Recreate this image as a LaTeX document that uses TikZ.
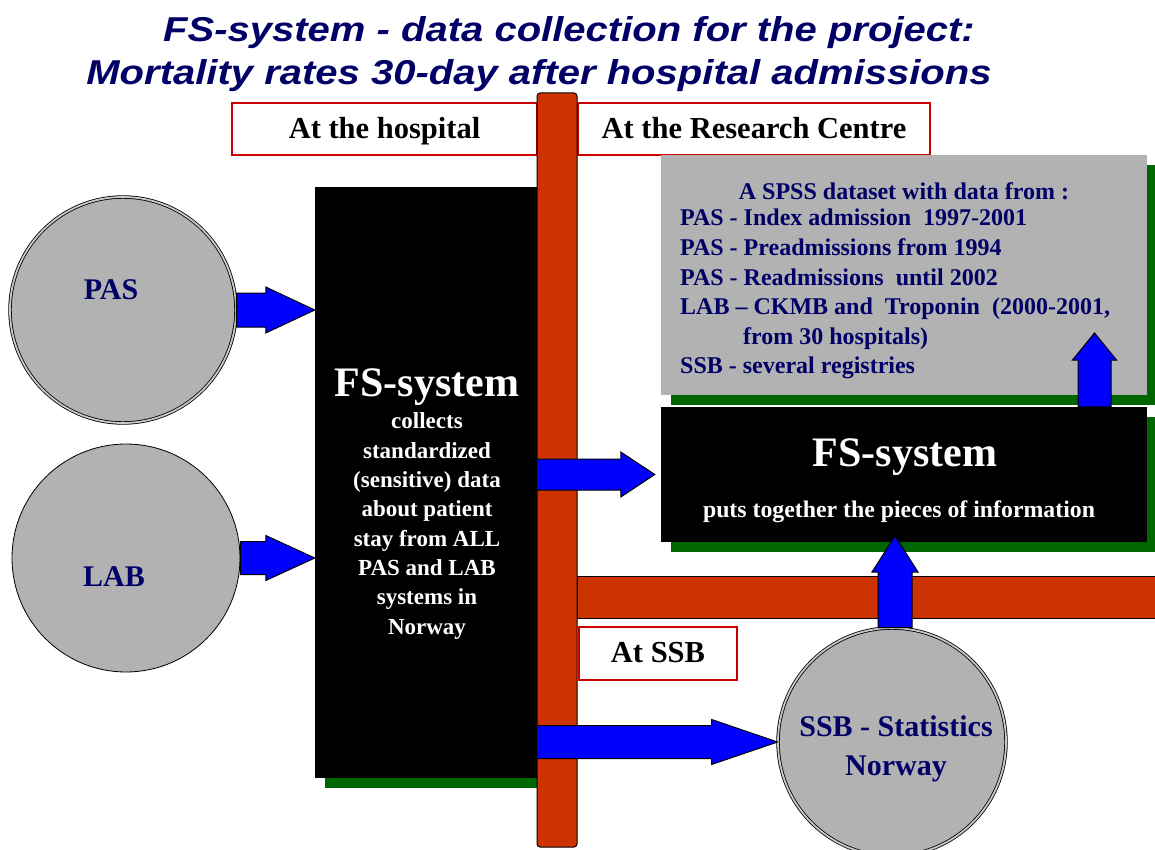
\documentclass[tikz,border=0pt]{standalone}
\usepackage{fontspec}
\setmainfont{Liberation Serif}
\newfontfamily\titlefont[FakeStretch=1.16]{Liberation Sans}
\usetikzlibrary{calc,shadows}
\definecolor{navy}{RGB}{0,0,102}
\definecolor{barred}{RGB}{204,51,0}
\definecolor{shadowgreen}{RGB}{0,102,0}
\definecolor{boxgray}{RGB}{178,178,178}
\definecolor{ringgray}{RGB}{200,200,200}
\definecolor{hdrred}{RGB}{204,0,0}
\definecolor{arrblue}{RGB}{0,0,255}
\newcommand{\fsz}[1]{\fontsize{#1}{#1}\selectfont}
\newcommand{\blockright}[5]{\draw[blk] let \p1=(#1), \p2=(#2) in
  (\x1,\y1+#3) -- (\x2-#5,\y1+#3) -- (\x2-#5,\y1+#4) -- (\x2,\y1) --
  (\x2-#5,\y1-#4) -- (\x2-#5,\y1-#3) -- (\x1,\y1-#3) -- cycle;}
\newcommand{\blockup}[5]{\draw[blk] let \p1=(#1), \p2=(#2) in
  (\x1-#3,\y1) -- (\x1-#3,\y2-#5) -- (\x1-#4,\y2-#5) -- (\x1,\y2) --
  (\x1+#4,\y2-#5) -- (\x1+#3,\y2-#5) -- (\x1+#3,\y1) -- cycle;}
\tikzset{
  blk/.style={draw=black, fill=arrblue, line width=1pt, line join=miter},
  hdr/.style={draw=hdrred, fill=white, line width=1.2pt, inner sep=0pt, font=\fsz{30.5}\bfseries},
  greensh/.style={general shadow={fill=shadowgreen, shadow xshift=10pt, shadow yshift=-10pt}},
  blackbox/.style={fill=black, inner sep=0pt, greensh},
  graybox/.style={fill=boxgray, inner sep=0pt, greensh},
  ringcirc/.style={circle, fill=boxgray, draw=black, inner sep=0pt, line width=0.8pt},
  dblcirc/.style={ringcirc, double=ringgray, double distance=1.8pt},
  navytxt/.style={text=navy, inner sep=0pt, font=\fsz{30}\bfseries},
  wtxt/.style={text=white, inner sep=0pt},
  bartile/.style={fill=barred, draw=black, line width=1pt, inner sep=0pt},
}
\begin{document}
\begin{tikzpicture}[x=1pt,y=-1pt]
\useasboundingbox (0,0) rectangle (1155,850);
\clip (0,0) rectangle (1155,850);
% title
\node[font=\titlefont\bfseries\itshape\fsz{34.5}, text=navy, anchor=base, inner sep=0pt] (t1) at (569,42) {FS-system - data collection for the project:};
\node[font=\titlefont\bfseries\itshape\fsz{34.5}, text=navy, anchor=base, inner sep=0pt] (t2) at (539,85) {Mortality rates 30-day after hospital admissions};
% header boxes
\node[hdr, minimum width=305pt, minimum height=52pt, text height=23pt, text depth=3pt] (hosp) at (384.5,129) {At the hospital};
\node[hdr, minimum width=352pt, minimum height=52pt, text height=23pt, text depth=3pt] (rc) at (754,129) {At the Research Centre};
% boxes
\node[graybox, minimum width=486pt, minimum height=240pt] (gray) at (904,275) {};
\node[blackbox, minimum width=486pt, minimum height=135pt] (fsr) at (904,474.5) {};
\node[blackbox, minimum width=230pt, minimum height=591pt] (fsl) at (430,482.5) {};
% bars
\node[bartile, minimum width=598pt, minimum height=42pt] (hbar) at (876,597) {};
\node[bartile, rounded corners=3pt, minimum width=40pt, minimum height=754pt] (bar) at (557,470) {};
\node[hdr, minimum width=158pt, minimum height=53pt, text height=20pt, text depth=3pt] (ssbhdr) at (658,653.5) {At SSB};
% circles
\node[dblcirc, minimum size=226pt] (pas) at (123,310) {};
\node[ringcirc, minimum size=228pt] (lab) at (126,558) {};
\node[dblcirc, minimum size=228pt] (ssb) at (892,742) {};
% arrows
\blockright{pas.east}{fsl.west}{17pt}{23pt}{49pt}
\blockright{lab.east}{fsl.west}{16.5pt}{22.5pt}{49pt}
\blockright{bar.west |- fsr.west}{$(fsr.west)+(-6,0)$}{15.5pt}{22.5pt}{34pt}
\blockright{bar.west |- ssb.west}{ssb.west}{16.5pt}{22.5pt}{66pt}
\coordinate (uptip) at (895,536);
\blockup{uptip |- ssb.north}{uptip}{17pt}{23pt}{36pt}
\coordinate (uptip2) at (1094.5,333);
\blockup{uptip2 |- fsr.north}{uptip2}{16.5pt}{22pt}{27pt}
% texts
\node[navytxt] (pastxt) at (111,290) {PAS};
\node[navytxt] (labtxt) at (114,577) {LAB};
\node[navytxt, align=center, font=\fontsize{30}{39}\selectfont\bfseries] (ssbtxt) at (896,749) {SSB - Statistics\\Norway};
\node[wtxt, font=\fsz{42}\bfseries] (fsltitle) at (427,387) {FS-system};
\node[wtxt, align=center, font=\fontsize{23}{29.3}\selectfont\bfseries] (fslbody) at (427,526) {collects\\standardized\\(sensitive) data\\about patient\\stay from ALL\\PAS and LAB\\systems in\\Norway};
\node[wtxt, font=\fsz{42}\bfseries] (fsrtitle) at (905,457) {FS-system};
\node[wtxt, font=\fsz{23.8}\bfseries, anchor=base] (fsrbody) at (899,517) {puts together the pieces of information};
\node[text=navy, inner sep=0pt, font=\fsz{24}\bfseries] (spsshead) at (904,191) {A SPSS dataset with data from :};
\node[text=navy, inner sep=0pt, anchor=north west, align=left, font=\fontsize{24}{29.6}\selectfont\bfseries] (spsslist) at (680,209)
 {PAS - Index admission\ \ 1997-2001\\PAS - Preadmissions from 1994\\PAS - Readmissions\ \ until 2002\\LAB -- CKMB and\ \ Troponin\ \ (2000-2001,\\\hspace*{63pt}from 30 hospitals)\\SSB - several registries};
\end{tikzpicture}
\end{document}
